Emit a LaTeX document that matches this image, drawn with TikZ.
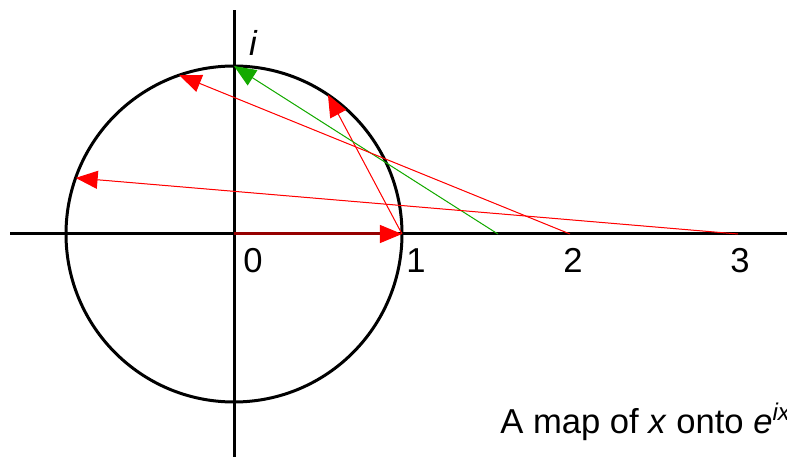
\documentclass[tikz,border=0pt]{standalone}
\usepackage{fontspec}
\setmainfont{Liberation Sans}
\usepackage{xcolor}
\definecolor{maproot}{RGB}{255,0,0}
\definecolor{mapquart}{RGB}{20,170,0}
\definecolor{mapaxis}{RGB}{150,0,0}
\usetikzlibrary{arrows.meta}
\tikzset{
  font=\fontsize{17.3}{21}\selectfont,
  axis/.style={line width=1.5pt,draw=black},
  unit/.style={line width=1.5pt,draw=black},
  wrap/.style={-{Triangle[length=11pt,width=9pt]},line width=0.5pt,draw=maproot,fill=maproot},
  wrapq/.style={wrap,draw=mapquart,fill=mapquart},
  wrapo/.style={line width=1.5pt,draw=mapaxis,-{Triangle[length=11pt,width=9pt,color=maproot,fill=maproot,line width=0.5pt]}},
  tick/.style={anchor=base,inner sep=0pt},
}
\begin{document}
\begin{tikzpicture}[x=84pt,y=84pt]
  \useasboundingbox (-1.3929,-1.3274) rectangle (3.2917,1.3929);
  \clip (-1.3929,-1.3274) rectangle (3.2917,1.3929);
  % axes and unit circle
  \coordinate (o) at (0,0);
  \coordinate (west) at (-1.3333,0);
  \coordinate (east) at (3.2917,0);
  \coordinate (north) at (0,1.3333);
  \coordinate (south) at (0,-1.3274);
  \draw[axis] (west) -- (east);
  \draw[axis] (north) -- (south);
  \draw[unit] (o) circle (1);
  % points on the real line
  \coordinate (r1) at (1,0);
  \coordinate (rq) at (1.5708,0);
  \coordinate (r2) at (2,0);
  \coordinate (r3) at (3,0);
  % their images on the circle
  \coordinate (c1) at (56:1);
  \coordinate (cq) at (90:1);
  \coordinate (c2) at (109:1);
  \coordinate (c3) at (160.5:1);
  \draw[wrap] (r1) -- (c1);
  \draw[wrapq] (rq) -- (cq);
  \draw[wrap] (r2) -- (c2);
  \draw[wrap] (r3) -- (c3);
  \draw[wrapo] (o) -- (r1);
  % labels
  \node[tick] (li) at (0.113,1.06) {\itshape i};
  \node[tick] (l0) at (0.113,-0.232) {0};
  \node[tick] (l1) at (1.083,-0.232) {1};
  \node[tick] (l2) at (2.018,-0.232) {2};
  \node[tick] (l3) at (3.012,-0.232) {3};
  \node[anchor=base west,inner sep=0pt] (cap) at (1.583,-1.185)
    {A map of \textit{x} onto \textit{e}\textsuperscript{\textit{ix}}};
\end{tikzpicture}
\end{document}
